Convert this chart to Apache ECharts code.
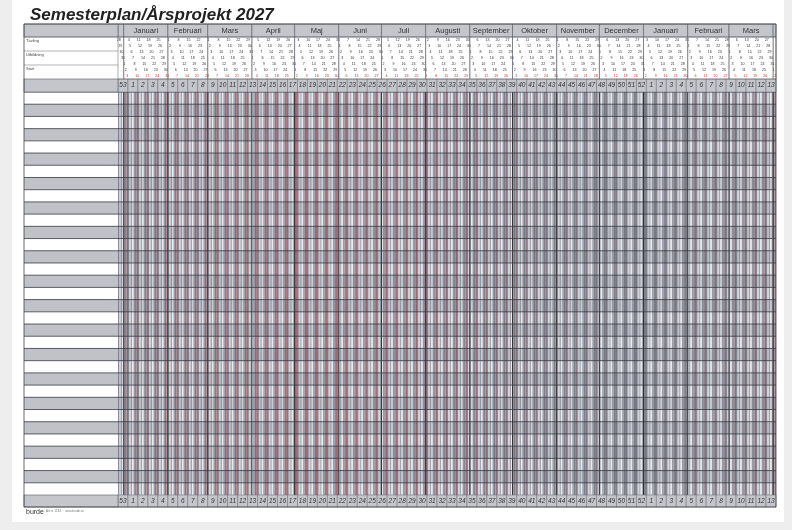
<!DOCTYPE html>
<html><head><meta charset="utf-8">
<script src="https://cdn.jsdelivr.net/npm/echarts@6/dist/echarts.min.js"></script>
<style>html,body{margin:0;background:#eeeeee}#main{width:792px;height:530px}</style>
</head><body><div id="main"></div>
<script>
// planner content
const titleText = "Semesterplan/Årsprojekt 2027";
const monthNames = ["Januari", "Februari", "Mars", "April", "Maj", "Juni", "Juli", "Augusti", "September", "Oktober", "November", "December"];
const weekNumbers = [53, 1, 2, 3, 4, 5, 6, 7, 8, 9, 10, 11, 12, 13, 14, 15, 16, 17, 18, 19, 20, 21, 22, 23, 24, 25, 26,
    27, 28, 29, 30, 31, 32, 33, 34, 35, 36, 37, 38, 39, 40, 41, 42, 43, 44, 45, 46, 47, 48, 49, 50, 51, 52,
    1, 2, 3, 4, 5, 6, 7, 8, 9, 10, 11, 12, 13];
const headerLabels = ["Tävling", "Utbildning", "Start"];
const rowCount = 33;
const startDay = Date.UTC(2026, 11, 28);

// vertical bands (y units, top down)
const Y = { month: 0, dates: 13, week: 55, rows: 68, bottomWeek: 471, end: 483 };
const rowH = (Y.bottomWeek - Y.rows) / rowCount;
const leftX = -66;

const days = [];
for (let i = 0; i < weekNumbers.length * 7; i++) {
    const d = new Date(startDay + i * 864e5);
    days.push({ i, wd: i % 7, date: d.getUTCDate(), month: d.getUTCMonth(), year: d.getUTCFullYear() });
}
const nDays = days.length;

const monthSegs = [];
days.forEach((d) => {
    const last = monthSegs[monthSegs.length - 1];
    if (last && last.month === d.month && last.year === d.year) last.end = d.i + 1;
    else monthSegs.push({ month: d.month, year: d.year, start: d.i, end: d.i + 1 });
});

const dayData = days.map((d) => [d.i, d.i + 1, d.wd, d.date]);
const rowData = Array.from({ length: rowCount }, (_, r) => [r]);
const weekData = weekNumbers.map((w, k) => [k * 7, k * 7 + 7, w]);
const monthData = monthSegs.map((s) => [s.start, s.end, s.month, s.end - s.start]);

function box(api, x0, x1, y0, y1) {
    const a = api.coord([x0, y0]), b = api.coord([x1, y1]);
    return { x: a[0], y: a[1], width: b[0] - a[0], height: b[1] - a[1] };
}
const FONT = "Liberation Sans";
const stripe = ["#9a9ea8", "#d3d5db", "#a3a7b0", "#e9eaee", "#979ba5", "#7d818c", "#b8707b"];

const chart = echarts.init(document.getElementById("main"));
chart.setOption({
    animation: false,
    title: { text: titleText, left: 25, top: 2, textStyle: { fontSize: 17, fontStyle: "italic", fontWeight: "bold", fontFamily: FONT, color: "#222" } },
    graphic: [
        { type: "rect", left: 12, top: 0, shape: { width: 772, height: 522 }, style: { fill: "#fff" }, z: -10 },
        { type: "text", left: 26, top: 509, style: { text: "burde", fontSize: 7, fontFamily: FONT, fill: "#333" } },
        { type: "text", left: 46, top: 510, style: { text: "Art.nr 1234  ·  www.burde.se", fontSize: 3, fontFamily: FONT, fill: "#777" } },
    ],
    grid: { left: 24, right: 16, top: 24, bottom: 23 },
    xAxis: { type: "value", min: leftX, max: nDays, show: false },
    yAxis: { type: "value", min: 0, max: Y.end, inverse: true, show: false },
    series: [
        {   // day stripes in planning rows
            type: "custom", data: dayData, z: 1,
            renderItem(params, api) {
                const x0 = api.value(0), wd = api.value(2), date = api.value(3);
                const ch = [{ type: "rect", shape: box(api, x0, x0 + 1, Y.rows, Y.bottomWeek), style: { fill: stripe[wd] } }];
                if (wd === 0 || date === 1) {
                    const r = box(api, x0, x0, Y.rows, Y.bottomWeek);
                    ch.push({ type: "line", shape: { x1: r.x, y1: r.y, x2: r.x, y2: r.y + r.height },
                        style: { stroke: date === 1 ? "#222" : "#4d5360", lineWidth: date === 1 ? 0.9 : 0.5 } });
                }
                const t = box(api, x0 + 0.5, x0 + 0.5, Y.dates + 3 + wd * 6, 0);
                ch.push({ type: "text", x: t.x, y: t.y, style: { text: String(date), fontSize: 3.6, fontFamily: FONT,
                    fill: wd === 6 ? "#c0392b" : "#333", align: "center", verticalAlign: "middle" } });
                return { type: "group", children: ch };
            },
        },
        {   // rows: left label column and banding
            type: "custom", data: rowData, z: 2,
            renderItem(params, api) {
                const r = api.value(0), y0 = Y.rows + r * rowH, y1 = y0 + rowH;
                const ch = [{ type: "rect", shape: box(api, leftX, 0, y0, y1), style: { fill: r % 2 ? "#c0c2c8" : "#fff" } }];
                if (r % 2) ch.push({ type: "rect", shape: box(api, 0, nDays, y0, y1), style: { fill: "rgba(80,85,100,0.2)" } });
                const l = box(api, leftX, nDays, y0, y0);
                ch.push({ type: "line", shape: { x1: l.x, y1: l.y, x2: l.x + l.width, y2: l.y }, style: { stroke: "#353840", lineWidth: 0.8 } });
                return { type: "group", children: ch };
            },
        },
        {   // week number rows (top and bottom)
            type: "custom", data: weekData, z: 3,
            renderItem(params, api) {
                const x0 = api.value(0), x1 = api.value(1), w = api.value(2);
                const ch = [];
                [[Y.week, Y.rows], [Y.bottomWeek, Y.end]].forEach(([a, b]) => {
                    const s = box(api, x0, x1, a, b);
                    ch.push({ type: "rect", shape: s, style: { fill: "#c4c6cc", stroke: "#666a73", lineWidth: 0.5 } });
                    ch.push({ type: "text", x: s.x + s.width / 2, y: s.y + s.height / 2, style: { text: String(w), fontSize: 6.5,
                        fontStyle: "italic", fontFamily: FONT, fill: "#333", align: "center", verticalAlign: "middle" } });
                });
                return { type: "group", children: ch };
            },
        },
        {   // month header boxes
            type: "custom", data: monthData, z: 3,
            renderItem(params, api) {
                const x0 = api.value(0), x1 = api.value(1), m = api.value(2), len = api.value(3);
                const s = box(api, x0, x1, Y.month, Y.dates);
                const d = box(api, x0, x1, Y.dates, Y.week);
                return { type: "group", children: [
                    { type: "rect", shape: s, style: { fill: "#c4c6cc", stroke: "#555a63", lineWidth: 0.6 } },
                    { type: "rect", shape: d, style: { fill: "none", stroke: "#555a63", lineWidth: 0.5 } },
                    { type: "text", x: s.x + s.width / 2, y: s.y + s.height / 2, style: { text: len > 7 ? monthNames[m] : "",
                        fontSize: 7.5, fontFamily: FONT, fill: "#333", align: "center", verticalAlign: "middle" } },
                ] };
            },
        },
        {   // left header block and outer frame
            type: "custom", data: [[0]], z: 4,
            renderItem(params, api) {
                const ch = [
                    { type: "rect", shape: box(api, leftX, 0, Y.month, Y.dates), style: { fill: "#c4c6cc", stroke: "#555a63", lineWidth: 0.6 } },
                    { type: "rect", shape: box(api, leftX, 0, Y.week, Y.rows), style: { fill: "#c4c6cc", stroke: "#555a63", lineWidth: 0.6 } },
                    { type: "rect", shape: box(api, leftX, 0, Y.bottomWeek, Y.end), style: { fill: "#c4c6cc", stroke: "#555a63", lineWidth: 0.6 } },
                ];
                headerLabels.forEach((t, k) => {
                    const y = Y.dates + k * 14;
                    const p = box(api, leftX, 0, y, y + 14);
                    ch.push({ type: "line", shape: { x1: p.x, y1: p.y, x2: p.x + p.width, y2: p.y }, style: { stroke: "#666", lineWidth: 0.5 } });
                    ch.push({ type: "text", x: p.x + 2, y: p.y + 2, style: { text: t, fontSize: 4, fontFamily: FONT, fill: "#444" } });
                });
                ch.push({ type: "rect", shape: box(api, leftX, nDays, Y.month, Y.end), style: { fill: "none", stroke: "#444", lineWidth: 0.8 } });
                return { type: "group", children: ch };
            },
        },
    ],
});
</script></body></html>
